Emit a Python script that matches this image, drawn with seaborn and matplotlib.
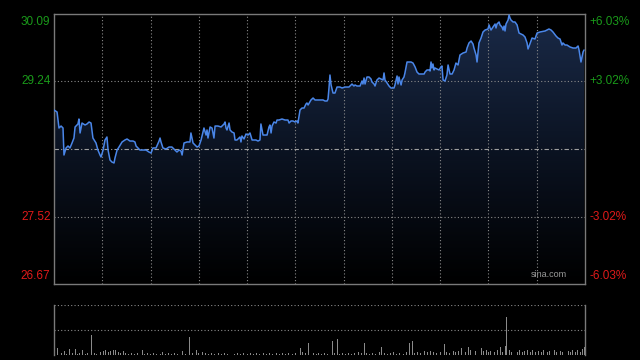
import numpy as np
import seaborn as sns
import matplotlib.pyplot as plt
from matplotlib.colors import LinearSegmentedColormap

sns.set_style("dark")
plt.rcParams['font.family'] = ['Liberation Sans', 'DejaVu Sans']

# 分时数据（分钟序号，价格）
minutes = [0, 1.9, 3.1, 4.4, 5.6, 6.2, 7.5, 8.7, 9.9, 11.2, 12.4, 13.1, 14.9, 15.5, 16.2, 17.4,
           19.3, 20.5, 21.8, 23.0, 24.2, 26.1, 27.3, 28.6, 29.2, 30.5, 31.7, 32.9, 33.6, 34.8,
           36.0, 37.3, 37.9, 39.2, 40.4, 42.3, 44.1, 45.4, 47.2, 49.1, 50.3, 51.0, 52.2, 53.4,
           55.3, 57.2, 59.0, 60.3, 61.5, 63.4, 65.3, 65.9, 66.5, 67.7, 69.6, 71.5, 73.3, 75.2,
           76.4, 77.7, 78.9, 79.6, 80.8, 82.7, 84.5, 85.1, 86.4, 87.6, 88.9, 90.1, 91.4, 92.6,
           93.2, 94.5, 95.1, 95.7, 97.0, 98.2, 99.4, 100.1, 101.9, 103.8, 105.7, 106.3, 106.9,
           107.5, 108.8, 109.4, 110.6, 111.9, 112.5, 113.7, 115.0, 115.6, 116.2, 116.8, 118.1,
           119.3, 120.6, 121.8, 123.1, 124.3, 125.5, 126.8, 128.0, 128.6, 129.9, 131.1, 132.4,
           133.6, 134.2, 134.9, 135.5, 136.7, 138.0, 138.6, 139.8, 141.7, 143.6, 145.4, 146.1,
           147.3, 148.5, 149.8, 151.0, 151.6, 152.9, 154.1, 155.4, 156.6, 157.2, 157.9, 159.7,
           161.0, 162.2, 164.1, 165.9, 167.2, 168.4, 169.7, 170.3, 170.9, 171.5, 172.2, 173.4,
           174.6, 175.9, 177.7, 179.0, 180.9, 183.3, 185.2, 186.4, 187.1, 188.3, 190.2, 191.4,
           192.0, 192.7, 193.3, 194.5, 195.8, 197.0, 197.6, 198.9, 199.5, 200.7, 202.0, 203.2,
           204.5, 205.1, 205.7, 207.0, 208.2, 209.4, 210.7, 211.3, 211.9, 213.2, 213.8, 214.4,
           215.0, 215.7, 216.3, 217.5, 218.1, 219.4, 220.6, 221.9, 223.1, 224.4, 225.6, 226.8,
           228.1, 230.0, 230.6, 231.8, 233.1, 233.7, 234.3, 234.9, 235.5, 236.2, 236.8, 238.0,
           239.3, 240.5, 241.1, 241.8, 243.0, 244.2, 244.9, 246.1, 247.4, 248.6, 249.8, 251.1,
           252.3, 254.2, 256.1, 256.7, 257.9, 259.2, 260.4, 261.0, 262.3, 262.9, 263.5, 264.1,
           265.4, 266.6, 267.9, 269.7, 270.4, 271.0, 271.6, 272.8, 274.1, 274.7, 275.3, 276.6,
           277.2, 278.4, 279.1, 279.7, 280.3, 280.9, 282.2, 282.8, 283.4, 284.0, 285.3, 286.5,
           287.8, 289.0, 290.2, 291.5, 292.7, 294.0, 294.6, 297.1, 298.9, 300.2, 302.0, 305.2,
           307.6, 308.9, 310.1, 312.0, 313.2, 314.5, 315.7, 316.3, 317.6, 318.8, 320.7, 322.6,
           324.4, 325.7, 326.3, 327.5, 328.8, 329.4]
prices = [28.874, 28.849, 28.646, 28.671, 28.646, 28.304, 28.393, 28.418, 28.393, 28.456, 28.519,
          28.659, 28.697, 28.760, 28.583, 28.709, 28.684, 28.697, 28.722, 28.709, 28.519, 28.456,
          28.367, 28.304, 28.279, 28.367, 28.494, 28.532, 28.367, 28.241, 28.215, 28.203, 28.266,
          28.367, 28.405, 28.469, 28.494, 28.507, 28.481, 28.481, 28.469, 28.418, 28.393, 28.367,
          28.367, 28.367, 28.342, 28.329, 28.393, 28.393, 28.481, 28.519, 28.469, 28.393, 28.380,
          28.405, 28.405, 28.367, 28.342, 28.367, 28.355, 28.304, 28.456, 28.469, 28.469, 28.583,
          28.456, 28.431, 28.405, 28.418, 28.494, 28.595, 28.646, 28.557, 28.621, 28.519, 28.659,
          28.646, 28.519, 28.671, 28.671, 28.659, 28.697, 28.722, 28.646, 28.621, 28.709, 28.621,
          28.595, 28.583, 28.494, 28.494, 28.519, 28.532, 28.469, 28.545, 28.507, 28.570, 28.557,
          28.583, 28.494, 28.494, 28.494, 28.481, 28.494, 28.697, 28.557, 28.557, 28.557, 28.659,
          28.684, 28.583, 28.671, 28.722, 28.709, 28.747, 28.747, 28.760, 28.747, 28.747, 28.709,
          28.735, 28.735, 28.722, 28.735, 28.709, 28.874, 28.899, 28.899, 28.950, 28.963, 28.937,
          29.001, 29.026, 29.001, 29.001, 29.001, 29.001, 28.988, 28.988, 29.013, 29.153, 29.317,
          29.191, 29.089, 29.089, 29.165, 29.165, 29.153, 29.165, 29.165, 29.203, 29.178, 29.191,
          29.178, 29.178, 29.241, 29.203, 29.279, 29.203, 29.292, 29.292, 29.267, 29.229, 29.203,
          29.178, 29.254, 29.279, 29.267, 29.254, 29.343, 29.254, 29.216, 29.178, 29.153, 29.153,
          29.153, 29.191, 29.305, 29.203, 29.292, 29.241, 29.191, 29.254, 29.292, 29.343, 29.482,
          29.482, 29.482, 29.469, 29.419, 29.355, 29.330, 29.330, 29.330, 29.355, 29.381, 29.381,
          29.368, 29.482, 29.406, 29.457, 29.381, 29.406, 29.393, 29.381, 29.419, 29.431, 29.254,
          29.241, 29.317, 29.444, 29.330, 29.330, 29.381, 29.469, 29.444, 29.571, 29.596, 29.609,
          29.659, 29.723, 29.748, 29.710, 29.659, 29.571, 29.482, 29.609, 29.723, 29.786, 29.862,
          29.887, 29.900, 29.951, 29.913, 29.887, 29.925, 29.963, 29.913, 29.963, 29.989, 29.951,
          29.925, 29.887, 29.938, 29.875, 29.963, 30.014, 30.077, 30.039, 30.014, 29.989, 29.989,
          29.951, 29.849, 29.837, 29.824, 29.799, 29.723, 29.647, 29.786, 29.773, 29.849, 29.862,
          29.875, 29.900, 29.887, 29.862, 29.811, 29.786, 29.773, 29.697, 29.723, 29.697, 29.697,
          29.672, 29.659, 29.659, 29.685, 29.634, 29.482, 29.609, 29.634]

# 成交量
vol_minutes = [0.6, 1.9, 3.1, 4.4, 6.8, 8.0, 9.9, 11.2, 13.1, 14.5, 16.0, 18.0, 19.5, 21.0, 23.6,
               25.0, 26.5, 28.6, 30.5, 32.3, 33.6, 35.4, 36.7, 38.0, 39.8, 41.5, 42.9, 44.5, 46.0,
               48.0, 50.0, 52.0, 54.7, 56.5, 58.0, 60.0, 62.0, 64.0, 66.0, 67.7, 69.5, 71.0, 73.0,
               75.0, 77.0, 78.3, 80.1, 82.0, 84.5, 86.0, 88.3, 90.0, 92.0, 94.0, 96.0, 98.0, 100.0,
               102.0, 104.0, 106.0, 108.0, 110.0, 112.0, 114.0, 116.0, 118.0, 120.0, 122.0, 124.0,
               126.0, 128.0, 130.0, 132.0, 134.0, 136.0, 138.0, 140.0, 142.0, 144.0, 146.0, 148.0,
               150.0, 152.9, 154.5, 156.5, 157.9, 159.1, 161.0, 163.0, 164.5, 166.0, 168.0, 170.0,
               172.8, 174.5, 175.9, 177.5, 179.0, 181.0, 183.0, 185.0, 187.0, 189.0, 191.0, 192.7,
               194.5, 196.0, 198.0, 200.0, 202.0, 203.6, 205.5, 207.0, 209.0, 211.0, 213.0, 215.0,
               217.0, 219.0, 221.2, 222.5, 224.0, 226.0, 228.0, 230.0, 232.0, 234.0, 236.0, 238.0,
               240.0, 242.4, 244.0, 246.0, 248.0, 249.5, 251.5, 253.5, 255.5, 257.5, 259.0, 260.4,
               262.0, 263.5, 265.5, 267.0, 268.5, 270.0, 271.5, 273.5, 275.5, 277.2, 278.5, 280.4,
               281.5, 283.0, 284.5, 286.5, 288.0, 289.5, 291.0, 292.5, 294.5, 296.0, 297.5, 299.5,
               301.0, 303.0, 304.5, 306.5, 308.0, 311.0, 312.5, 314.5, 316.0, 318.2, 319.5, 321.0,
               322.5, 324.0, 325.5, 327.0, 328.3, 329.4]
vol_values = [6, 14, 6, 4, 8, 3, 12, 4, 12, 3, 4, 10, 3, 4, 40,
              4, 3, 6, 8, 10, 6, 8, 10, 10, 6, 4, 8, 4, 3,
              4, 3, 4, 10, 3, 4, 3, 4, 3, 3, 6, 3, 4, 3,
              4, 3, 6, 8, 3, 36, 4, 10, 4, 6, 4, 3, 4, 3,
              4, 3, 4, 3, 4, 3, 4, 3, 4, 3, 4, 3,
              4, 3, 4, 3, 4, 3, 4, 3, 4, 3, 4, 3,
              4, 14, 6, 4, 24, 40, 4, 3, 4, 3, 4, 3,
              28, 4, 32, 3, 4, 3, 4, 3, 4, 6, 4, 24,
              4, 3, 4, 3, 6, 16, 4, 3, 4, 6, 3, 4,
              3, 6, 24, 28, 4, 6, 4, 8, 6, 8, 6, 4,
              6, 22, 6, 4, 8, 6, 8, 14, 6, 16, 10, 28,
              8, 6, 14, 8, 10, 6, 8, 6, 10, 16, 6, 18,
              76, 10, 6, 14, 6, 10, 6, 8, 10, 6, 10, 6,
              8, 6, 10, 6, 8, 10, 6, 8, 6, 18, 8, 6,
              10, 6, 10, 6, 12, 16]

prev_close = 28.38
p_top, p_bot = 30.09, 26.67
left_labels = ["30.09", "29.24", "27.52", "26.67"]
right_labels = ["+6.03%", "+3.02%", "-3.02%", "-6.03%"]
label_prices = [30.09, 29.24, 27.52, 26.67]
label_colors = ["#1a9a1a", "#1a9a1a", "#e01a1a", "#e01a1a"]

fig = plt.figure(figsize=(6.4, 3.6), dpi=100, facecolor="black")
ax = fig.add_axes([54 / 640, 1 - 284 / 360, 531 / 640, 270 / 360])
axv = fig.add_axes([54 / 640, 1 - 355 / 360, 531 / 640, 50 / 360])

for a in (ax, axv):
    a.set_facecolor("black")
    a.set_xlim(0, 330)
    a.set_xticks([])
    a.set_yticks([])
    a.grid(False)
    for s in a.spines.values():
        s.set_color("#7a7a7a")
        s.set_linewidth(1)

ax.set_ylim(p_bot, p_top)

# 渐变填充
cmap = LinearSegmentedColormap.from_list("fill", ["#000000", "#0b1322", "#1a2a48"])
grad = np.linspace(0, 1, 256).reshape(-1, 1)
im = ax.imshow(grad, extent=[0, 330, p_bot, p_top], origin="lower", aspect="auto",
               cmap=cmap, zorder=1)
poly = ax.fill_between(minutes, prices, p_bot, color="none", lw=0)
im.set_clip_path(poly.get_paths()[0], transform=ax.transData)

# 网格
for m in range(30, 330, 30):
    ax.axvline(m, color="#8a8a8a", lw=0.8, ls=(0, (1, 2)), zorder=2)
for p in (29.24, 27.52):
    ax.axhline(p, color="#8a8a8a", lw=0.8, ls=(0, (1, 2)), zorder=2)
ax.axhline(prev_close, color="#a0a0a0", lw=0.8, ls=(0, (4, 2, 1, 2)), zorder=2)

sns.lineplot(x=minutes, y=prices, ax=ax, color="#4a86e8", lw=1.1, zorder=3)
ax.set_xlim(0, 330)
ax.set_ylim(p_bot, p_top)
ax.set_xlabel("")
ax.set_ylabel("")

for lab, rlab, p, c in zip(left_labels, right_labels, label_prices, label_colors):
    if p == p_top:
        va, dy = "top", -1.5
    elif p == p_bot:
        va, dy = "bottom", 1.5
    else:
        va, dy = "center", 0
    ax.annotate(lab, xy=(0, p), xycoords=("axes fraction", "data"), xytext=(-2.5, dy),
                textcoords="offset points", ha="right", va=va, color=c, fontsize=8.5)
    ax.annotate(rlab, xy=(1, p), xycoords=("axes fraction", "data"), xytext=(3.5, dy),
                textcoords="offset points", ha="left", va=va, color=c, fontsize=8.5)

ax.text(0.965, 0.02, "sina.com", transform=ax.transAxes, ha="right", va="bottom",
        color="#9a9a9a", fontsize=6.5, zorder=4)

# 成交量
axv.set_ylim(0, 100)
axv.spines["top"].set_visible(False)
axv.spines["bottom"].set_visible(False)
axv.axhline(100, color="#8a8a8a", lw=0.8, ls=(0, (1, 2)))
axv.axhline(50, color="#8a8a8a", lw=0.8, ls=(0, (1, 2)))
axv.bar(vol_minutes, vol_values, width=0.6, color="#8a8a8a", lw=0)

fig.savefig("out.png", dpi=100, facecolor="black")
